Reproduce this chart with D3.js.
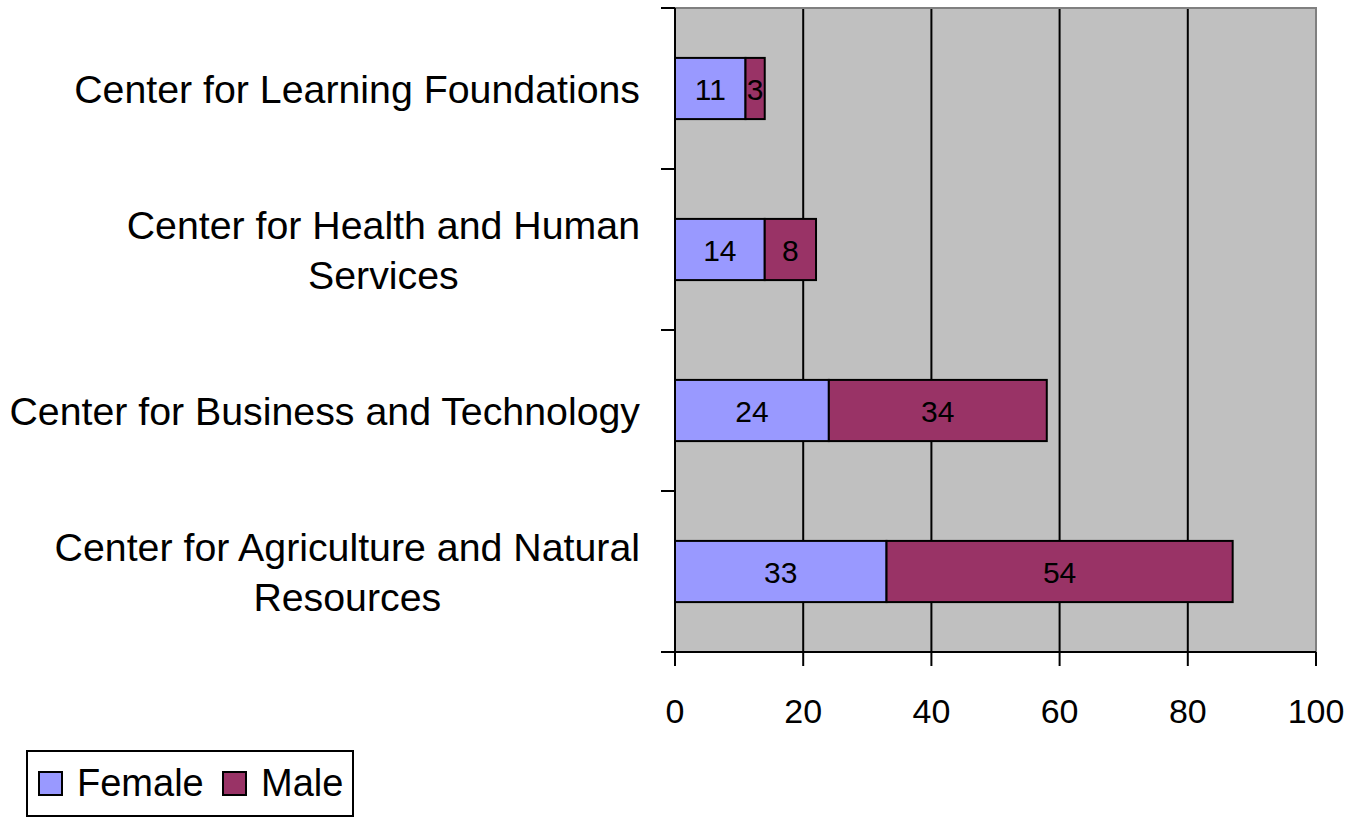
<!DOCTYPE html>
<html>
<head>
<meta charset="utf-8">
<script src="https://cdn.jsdelivr.net/npm/d3@7"></script>
<style>
  html, body { margin: 0; padding: 0; background: #ffffff; }
  svg { display: block; }
  text { font-family: "Liberation Sans", Arial, sans-serif; fill: #000; }
</style>
</head>
<body>
<svg id="chart" width="1359" height="818"></svg>
<script>
// ---- data ----
const categories = [
  "Center for Learning Foundations",
  "Center for Health and Human\nServices",
  "Center for Business and Technology",
  "Center for Agriculture and Natural\nResources"
];
const femaleValues = [11, 14, 24, 33];
const maleValues = [3, 8, 34, 54];
const seriesNames = ["Female", "Male"];
const seriesColors = ["#9999FF", "#993366"];
const xTicks = [0, 20, 40, 60, 80, 100];

// ---- layout ----
const svg = d3.select("#chart");
const plot = { left: 675, right: 1316, top: 8, bottom: 652 };

const x = d3.scaleLinear().domain([0, 100]).range([plot.left, plot.right]);
const y = d3.scaleBand().domain(categories).range([plot.top, plot.bottom])
  .paddingInner(0.62).paddingOuter(0.31);

// background
svg.append("rect")
  .attr("x", plot.left).attr("y", plot.top)
  .attr("width", plot.right - plot.left).attr("height", plot.bottom - plot.top)
  .attr("fill", "#C0C0C0");

// gridlines
svg.append("g").selectAll("line")
  .data(xTicks.filter(t => t > 0 && t < 100))
  .join("line")
  .attr("x1", d => x(d)).attr("x2", d => x(d))
  .attr("y1", plot.top).attr("y2", plot.bottom)
  .attr("stroke", "#000").attr("stroke-width", 2);

// plot border (top/right gray)
svg.append("path")
  .attr("d", `M${plot.left},${plot.top}H${plot.right}V${plot.bottom}`)
  .attr("fill", "none").attr("stroke", "#808080").attr("stroke-width", 2);

// stacked data
const stackData = categories.map((c, i) => ({ cat: c, Female: femaleValues[i], Male: maleValues[i] }));
const stacked = d3.stack().keys(seriesNames)(stackData);

const gBars = svg.append("g");
stacked.forEach((layer, li) => {
  const g = gBars.append("g");
  g.selectAll("rect").data(layer).join("rect")
    .attr("x", d => x(d[0]))
    .attr("y", d => y(d.data.cat))
    .attr("width", d => x(d[1]) - x(d[0]))
    .attr("height", y.bandwidth())
    .attr("fill", seriesColors[li])
    .attr("stroke", "#000").attr("stroke-width", 2);
});
stacked.forEach((layer, li) => {
  gBars.append("g").selectAll("text").data(layer).join("text")
    .attr("x", d => (x(d[0]) + x(d[1])) / 2)
    .attr("y", d => y(d.data.cat) + y.bandwidth() / 2 + 11)
    .attr("text-anchor", "middle")
    .attr("font-size", "30px")
    .text(d => d[1] - d[0]);
});

// y axis line with ticks
const yAxisG = svg.append("g");
yAxisG.append("line")
  .attr("x1", plot.left).attr("x2", plot.left)
  .attr("y1", plot.top).attr("y2", plot.bottom)
  .attr("stroke", "#000").attr("stroke-width", 2);
const step = y.step();
const yTickPos = d3.range(categories.length + 1).map(i => plot.top + i * step);
yAxisG.selectAll("line.tk").data(yTickPos).join("line").attr("class", "tk")
  .attr("x1", plot.left - 14).attr("x2", plot.left)
  .attr("y1", d => d).attr("y2", d => d)
  .attr("stroke", "#000").attr("stroke-width", 2);

// x axis
const xAxisG = svg.append("g");
xAxisG.append("line")
  .attr("x1", plot.left - 14).attr("x2", plot.right)
  .attr("y1", plot.bottom).attr("y2", plot.bottom)
  .attr("stroke", "#000").attr("stroke-width", 2);
xAxisG.selectAll("line.tk").data(xTicks).join("line").attr("class", "tk")
  .attr("x1", d => x(d)).attr("x2", d => x(d))
  .attr("y1", plot.bottom).attr("y2", plot.bottom + 14)
  .attr("stroke", "#000").attr("stroke-width", 2);
xAxisG.selectAll("text").data(xTicks).join("text")
  .attr("x", d => x(d)).attr("y", 723)
  .attr("text-anchor", "middle")
  .attr("font-size", "34px")
  .text(d => d);

// category labels
const labelRight = 640;
const lineH = 50;
const catG = svg.append("g");
categories.forEach(c => {
  const lines = c.split("\n");
  const t = catG.append("text").attr("font-size", "39.3px").attr("text-anchor", "middle");
  const cy = y(c) + y.bandwidth() / 2;
  const y0 = cy - (lines.length - 1) * lineH / 2 + 14;
  const tspans = lines.map((ln, i) => t.append("tspan").attr("y", y0 + i * lineH).text(ln));
  const maxW = d3.max(tspans, ts => ts.node().getComputedTextLength());
  tspans.forEach(ts => ts.attr("x", labelRight - maxW / 2));
});

// legend
const leg = svg.append("g");
leg.append("rect")
  .attr("x", 27).attr("y", 751).attr("width", 326).attr("height", 65)
  .attr("fill", "#fff").attr("stroke", "#000").attr("stroke-width", 2);
const legItems = [{ name: seriesNames[0], color: seriesColors[0], sx: 39, tx: 77 },
                  { name: seriesNames[1], color: seriesColors[1], sx: 223, tx: 261 }];
legItems.forEach(it => {
  leg.append("rect").attr("x", it.sx).attr("y", 772).attr("width", 23).attr("height", 23)
    .attr("fill", it.color).attr("stroke", "#000").attr("stroke-width", 2);
  leg.append("text").attr("x", it.tx).attr("y", 796).attr("font-size", "38px").text(it.name);
});
</script>
</body>
</html>
